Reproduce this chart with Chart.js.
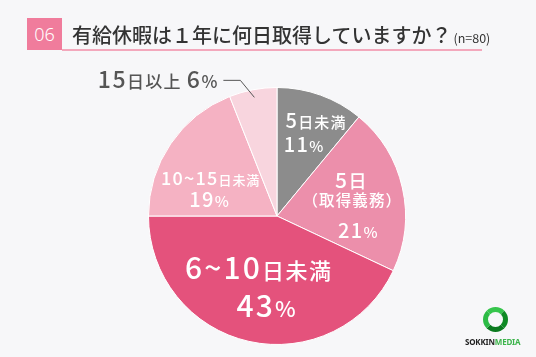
<!DOCTYPE html>
<html><head><meta charset="utf-8">
<script src="https://cdn.jsdelivr.net/npm/chart.js@4"></script>
<style>
html,body{margin:0;padding:0;background:#f7f7f9;}
#wrap{position:relative;width:536px;height:357px;overflow:hidden;background:#f7f7f9;font-family:"Noto Sans CJK JP","Noto Sans",sans-serif;}
canvas{position:absolute;left:0;top:0;}
#box{position:absolute;left:27px;top:18px;width:35px;height:32px;background:#f07c9c;color:#fff;font-size:18px;line-height:32px;text-align:center;font-family:"Noto Sans","Noto Sans CJK JP",sans-serif;font-weight:300;}
#uline{position:absolute;left:62px;top:49px;width:420px;height:2px;background:#f3a8bc;}
#title{position:absolute;left:72px;top:24px;font-size:20px;line-height:22px;color:#333;font-weight:500;white-space:nowrap;}
#title small{font-size:12.5px;font-weight:400;margin-left:2px;}
#ring{position:absolute;left:483px;top:307px;width:15px;height:15px;border-radius:50%;border:5px solid #1fae3a;border-color:#36c54c #0f8a25 #0b7a1f #2cbb45;}
#logo{position:absolute;left:465px;top:336px;font-size:8px;font-weight:700;letter-spacing:-0.2px;font-family:"Noto Sans","Liberation Sans",sans-serif;white-space:nowrap;color:#222;}
#logo span{color:#3cb44b;}
</style></head>
<body><div id="wrap">
<canvas id="c" width="536" height="357"></canvas>
<div id="box">06</div>
<div id="uline"></div>
<div id="title">有給休暇は１年に何日取得していますか？<small>(n=80)</small></div>
<div id="ring"></div>
<div id="logo">SOKKIN<span>MEDIA</span></div>
</div>
<script>
const categories = ['5日未満', '5日（取得義務）', '6~10日未満', '10~15日未満', '15日以上'];
const values = [11, 21, 43, 19, 6];
const colors = ['#8c8c8c', '#ec8fab', '#e4527c', '#f5b2c3', '#f8d5de'];

// label layout: lines of text runs [text, fontSize], offsets relative to arc anchor
const labelStyle = [
  {frac:0.70, color:'#fff', lines:[
    {dx:8, dy:-3, runs:[['5',20],['日未満',15]]},
    {dx:-4, dy:21, runs:[['11',20],['%',15]]}]},
  {frac:0.62, color:'#fff', lines:[
    {dx:-4, dy:-11, runs:[['5',21],['日',18]]},
    {dx:-3, dy:7, runs:[['（取得義務）',15.5]]},
    {dx:3, dy:39, runs:[['21',20],['%',15]]}]},
  {frac:0.57, color:'#fff', lines:[
    {dx:-3, dy:-8, runs:[['6~10',30],['日未満',22]]},
    {dx:5, dy:30, runs:[['43',30],['%',22]]}]},
  {frac:0.62, color:'#fff', lines:[
    {dx:-1, dy:14, runs:[['10~15',18],['日未満',13]]},
    {dx:-2, dy:36, runs:[['19',20],['%',15]]}]},
  {frac:0.94, color:'#555', external:true, lines:[
    {dx:-37, dy:-9, align:'right', runs:[['15',23],['日以上 ',17],['6',23],['%',17]]}]}
];

const FAM = '"Noto Sans CJK JP","Noto Sans",sans-serif';
function drawRuns(ctx, runs, x, y, align, color){
  const chars = [];
  runs.forEach(r => { for (const ch of r[0]) chars.push([ch, r[1]]); });
  let w = 0;
  chars.forEach((c, k) => {
    ctx.font = '500 ' + c[1] + 'px ' + FAM;
    c.w = ctx.measureText(c[0]).width;
    c.sp = k < chars.length - 1 ? c[1]*0.07 : 0;
    w += c.w + c.sp;
  });
  let sx = align === 'right' ? x - w : x - w/2;
  ctx.fillStyle = color; ctx.textBaseline = 'alphabetic'; ctx.textAlign = 'left';
  chars.forEach(c => { ctx.font = '500 ' + c[1] + 'px ' + FAM; ctx.fillText(c[0], sx, y); sx += c.w + c.sp; });
}

const labelPlugin = {
  id:'labels',
  afterDatasetsDraw(chart){
    const ctx = chart.ctx;
    const meta = chart.getDatasetMeta(0);
    meta.data.forEach((arc, i) => {
      const p = arc.getProps(['x','y','startAngle','endAngle','outerRadius'], true);
      const mid = (p.startAngle + p.endAngle)/2;
      const st = labelStyle[i];
      const ax = p.x + Math.cos(mid)*p.outerRadius*st.frac;
      const ay = p.y + Math.sin(mid)*p.outerRadius*st.frac;
      ctx.save();
      if (st.external){
        ctx.strokeStyle = '#555'; ctx.lineWidth = 1;
        ctx.beginPath();
        ctx.moveTo(ax, ay);
        ctx.lineTo(ax - 14, ay - 17);
        ctx.lineTo(ax - 31, ay - 17);
        ctx.stroke();
      }
      st.lines.forEach(l => drawRuns(ctx, l.runs, ax + l.dx, ay + l.dy, l.align, st.color));
      ctx.restore();
    });
  }
};

new Chart(document.getElementById('c'), {
  type:'pie',
  data:{labels:categories, datasets:[{data:values, backgroundColor:colors, borderColor:'#ffffff', borderWidth:1}]},
  options:{
    responsive:false, animation:false,
    layout:{padding:{left:100,right:82,top:87,bottom:12}},
    plugins:{legend:{display:false}, tooltip:{enabled:false}}
  },
  plugins:[labelPlugin]
});
</script>
</body></html>
